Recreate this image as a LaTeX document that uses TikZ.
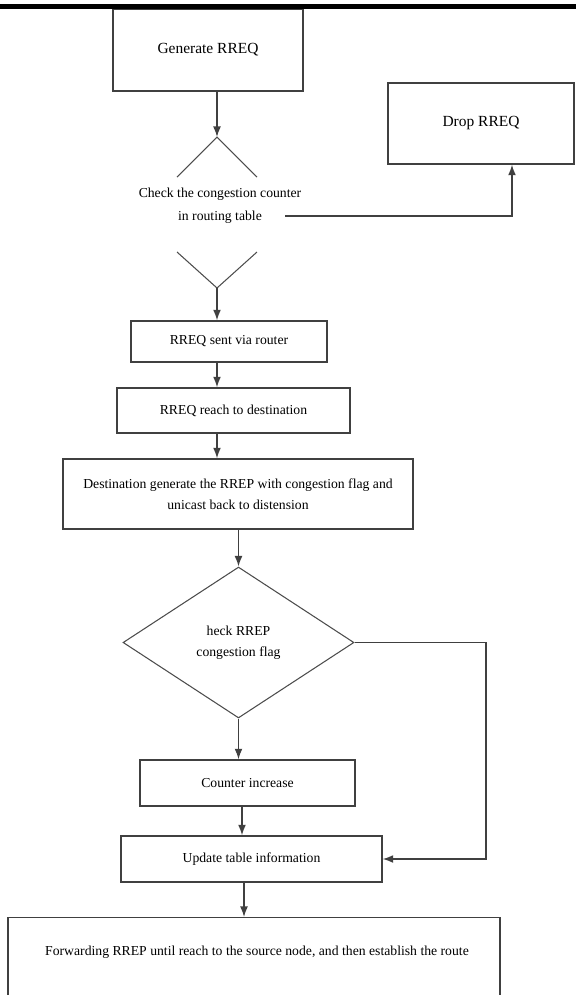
\documentclass[tikz,border=0pt]{standalone}
\usepackage{fontspec}
\setmainfont{Liberation Serif}
\usetikzlibrary{shapes.geometric, arrows.meta, positioning}

\tikzset{
  stepbox/.style={draw=black!75, line width=0.8pt, fill=white, inner sep=1pt,
    align=center, font=\fontsize{7.8}{12}\selectfont},
  bigtext/.style={font=\fontsize{8.8}{11}\selectfont},
  link/.style={draw=black!75, line width=0.8pt},
  thinlink/.style={draw=black!70, line width=0.6pt},
  flow/.style={link, -{Latex[length=6pt,width=4.5pt]}},
}

\begin{document}
\begin{tikzpicture}[x=0.02cm, y=-0.02cm]
  \useasboundingbox (0,0) rectangle (576,995);
  \clip (0,0) rectangle (576,995);

  % Start and drop
  \node[stepbox, bigtext, minimum width=3.8cm, minimum height=1.64cm] (gen) at (208,50) {Generate RREQ};
  \node[stepbox, bigtext, minimum width=3.72cm, minimum height=1.62cm] (drop) at (481,123.5) {Drop RREQ};

  % Open check shape
  \coordinate (chk top) at (217,137);
  \coordinate (chk bot) at (217,288);
  \draw[thinlink] (chk top) ++(-40,40) -- (chk top) -- ++(40,40);
  \draw[thinlink] (chk bot) ++(-40,-36) -- (chk bot) -- ++(40,-36);
  \node[align=center, font=\fontsize{7.8}{13}\selectfont] (chk) at (220,206)
    {Check the congestion counter\\in routing table};
  \coordinate (chk out) at (285,216);

  % Route request steps
  \node[stepbox, minimum width=3.92cm, minimum height=0.82cm] (sent) at (229,341.5) {RREQ sent via router};
  \node[stepbox, minimum width=4.66cm, minimum height=0.9cm] (reach) at (233.5,410.5) {RREQ reach to destination};
  \node[stepbox, minimum width=7cm, minimum height=1.4cm] (dest) at (238,494)
    {Destination generate the RREP with congestion flag and\\unicast back to distension};

  % Flag test
  \node[stepbox, thinlink, diamond, minimum width=4.62cm, minimum height=3.02cm] (flag) at (238.5,642.5)
    {heck RREP\\congestion flag};

  % Route reply steps
  \node[stepbox, minimum width=4.3cm, minimum height=0.92cm] (counter) at (247.5,783) {Counter increase};
  \node[stepbox, minimum width=5.22cm, minimum height=0.92cm] (update) at (251.5,859) {Update table information};
  \node[stepbox, minimum width=9.84cm, minimum height=1.76cm, anchor=north] (fwd) at (254,917) {};
  \node[font=\fontsize{7.8}{12}\selectfont] (fwdtext) at (257,952)
    {Forwarding RREP until reach to the source node, and then establish the route};

  % Connectors
  \draw[flow] (gen.south -| chk top) -- (chk top);
  \draw[flow] (chk out) -| ([xshift=0.62cm]drop.south);
  \draw[flow] (chk bot) -- (sent.north -| chk bot);
  \draw[flow] (sent.south -| chk bot) -- (reach.north -| chk bot);
  \draw[flow] (reach.south -| chk bot) -- (dest.north -| chk bot);
  \draw[flow] (dest.south -| flag.north) -- (flag.north);
  \draw[flow] (flag.south) -- (counter.north -| flag.south);
  \draw[flow] ([xshift=-0.11cm]counter.south) -- ([xshift=-0.11cm]counter.south |- update.north);
  \draw[flow] ([xshift=-0.15cm]update.south) -- ([xshift=-0.15cm]update.south |- fwd.north);
  \draw[flow] (flag.east) -- ++(131.5,0) |- (update.east);

  % Page rule
  \fill[black] (0,3.5) rectangle (576,8.5);
\end{tikzpicture}
\end{document}
